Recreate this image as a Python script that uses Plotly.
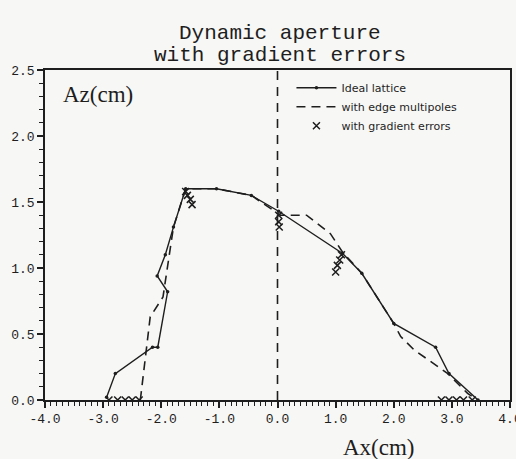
import plotly.graph_objects as go

# ---- data ----
ideal_x = [-2.94, -2.79, -2.15, -2.06, -1.89, -2.07, -1.93, -1.79, -1.58, -1.05, -0.45, 0.02, 1.12, 1.45, 2.00, 2.72, 2.95, 3.45]
ideal_y = [0.02, 0.20, 0.40, 0.40, 0.82, 0.94, 1.10, 1.31, 1.60, 1.60, 1.55, 1.43, 1.11, 0.96, 0.58, 0.40, 0.20, 0.00]

edge_x = [-2.36, -2.19, -1.97, -1.88, -1.79, -1.58, -1.05, -0.45, 0.05, 0.50, 0.91, 1.12, 1.45, 2.00, 2.12, 2.35, 2.93, 3.27, 3.44]
edge_y = [0.00, 0.63, 0.78, 1.05, 1.31, 1.60, 1.60, 1.55, 1.40, 1.40, 1.26, 1.12, 0.96, 0.58, 0.48, 0.38, 0.20, 0.05, 0.00]

grad_x = [-1.58, -1.55, -1.50, -1.47, 0.02, 0.02, 0.03, 1.10, 1.07, 1.03, 1.00,
          -2.90, -2.75, -2.62, -2.50, -2.38, 2.82, 2.95, 3.08, 3.20, 3.35]
grad_y = [1.58, 1.55, 1.52, 1.48, 1.40, 1.35, 1.31, 1.10, 1.06, 1.02, 0.97,
          0.0, 0.0, 0.0, 0.0, 0.0, 0.0, 0.0, 0.0, 0.0, 0.0]

x_tickvals = [-4.0, -3.0, -2.0, -1.0, 0.0, 1.0, 2.0, 3.0, 4.0]
x_ticktext = ["-4.0", "-3.0", "-2.0", "-1.0", "0.0", "1.0", "2.0", "3.0", "4.0"]
y_tickvals = [0.0, 0.5, 1.0, 1.5, 2.0, 2.5]
y_ticktext = ["0.0", "0.5", "1.0", "1.5", "2.0", "2.5"]

names = ["Ideal lattice", "with edge multipoles", "with gradient errors"]
title_lines = ["Dynamic aperture", "with gradient errors"]

INK = "#1e1e1e"
MONO = "Liberation Mono, Courier New, monospace"
SERIF = "Liberation Serif, DejaVu Serif, serif"

fig = go.Figure()
fig.add_trace(go.Scatter(x=ideal_x, y=ideal_y, mode="lines+markers", name=names[0],
                         line=dict(color=INK, width=1.4),
                         marker=dict(size=3.5, color=INK)))
fig.add_trace(go.Scatter(x=edge_x, y=edge_y, mode="lines", name=names[1],
                         line=dict(color=INK, width=1.6, dash="9px,6px")))
fig.add_trace(go.Scatter(x=grad_x, y=grad_y, mode="markers", name=names[2],
                         marker=dict(symbol="x-thin", size=7, color=INK,
                                     line=dict(width=1.5, color=INK))))

fig.add_shape(type="line", x0=0, x1=0, y0=0, y1=2.5, xref="x", yref="y",
              line=dict(color=INK, width=1.6, dash="9px,7px"))

axis_common = dict(showline=True, linecolor=INK, linewidth=1.5, mirror=True,
                   showgrid=False, zeroline=False, ticks="outside",
                   tickcolor=INK, tickwidth=1.5, ticklen=6,
                   ticklabeloverflow="allow", automargin=False,
                   tickfont=dict(family=MONO, size=13, color=INK))

fig.update_xaxes(range=[-4, 4], tickvals=x_tickvals, ticktext=x_ticktext,
                 minor=dict(dtick=0.1, ticks="outside", ticklen=4, tickcolor=INK, tickwidth=1.2),
                 **axis_common)
fig.update_yaxes(range=[0, 2.5], tickvals=y_tickvals, ticktext=y_ticktext,
                 minor=dict(dtick=0.1, ticks="outside", ticklen=4, tickcolor=INK, tickwidth=1.2),
                 **axis_common)

annotations = [
    dict(text=title_lines[0], x=0.505, y=1.152, xref="paper", yref="paper",
         showarrow=False, font=dict(family=MONO, size=21, color=INK)),
    dict(text=title_lines[1], x=0.505, y=1.085, xref="paper", yref="paper",
         showarrow=False, font=dict(family=MONO, size=21, color=INK)),
    dict(text="Az(cm)", x=0.035, y=0.925, xref="paper", yref="paper", xanchor="left",
         yanchor="middle", showarrow=False, font=dict(family=SERIF, size=23, color=INK)),
    dict(text="Ax(cm)", x=0.80, y=-0.145, xref="paper", yref="paper",
         yanchor="middle", showarrow=False, font=dict(family=SERIF, size=23, color=INK)),
]

fig.update_layout(
    width=516, height=459,
    margin=dict(l=45, r=6, t=70, b=59, autoexpand=False),
    paper_bgcolor="#f7f7f5", plot_bgcolor="#f7f7f5",
    annotations=annotations,
    showlegend=True,
    legend=dict(x=0.53, y=0.99, xanchor="left", yanchor="top",
                bgcolor="rgba(0,0,0,0)", tracegroupgap=0,
                font=dict(family="DejaVu Sans, sans-serif", size=11, color=INK),
                itemwidth=40),
)

fig.write_html("out.html")
